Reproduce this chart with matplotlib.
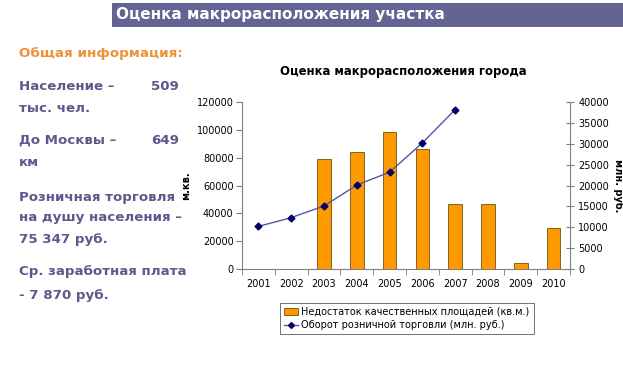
import matplotlib.pyplot as plt
import numpy as np
from matplotlib.patches import Rectangle
from matplotlib.lines import Line2D

plt.rcParams.update({
    "font.family": "DejaVu Sans",
    "font.size": 7,
})

# --- данные ---
years = ["2001", "2002", "2003", "2004", "2005", "2006", "2007", "2008", "2009", "2010"]
shortage = [0, 0, 79000, 84000, 98500, 86300, 47000, 47000, 4300, 29700]
turnover_years = ["2001", "2002", "2003", "2004", "2005", "2006", "2007"]
turnover = [10200, 12300, 15100, 20100, 23200, 30200, 38200]

left_lines = [
    ("Население –", "509", 86),
    ("тыс. чел.", None, 108),
    ("До Москвы –", "649", 140),
    ("км", None, 162),
    ("Розничная торговля", None, 197),
    ("на душу населения –", None, 218),
    ("75 347 руб.", None, 240),
    ("Ср. заработная плата", None, 272),
    ("- 7 870 руб.", None, 295),
]

W, H = 623, 376
fig = plt.figure(figsize=(W / 100, H / 100), dpi=100)
fig.patch.set_facecolor("white")

def fx(px):
    return px / W

def fy(py):
    return 1 - py / H

# заголовок-плашка
fig.patches.append(Rectangle((fx(112), fy(27)), 1 - fx(112), (27 - 3) / H,
                             transform=fig.transFigure, facecolor="#636394",
                             edgecolor="none"))
fig.text(fx(116), fy(15), "Оценка макрорасположения участка", color="white",
         fontsize=11, fontweight="bold", va="center", ha="left")

# левый текст
txt_col = "#5a5a8c"
fig.text(fx(19), fy(53), "Общая информация:", color="#f0903a", fontsize=9.7,
         fontweight="bold", va="center")
for s, num, y in left_lines:
    fig.text(fx(19), fy(y), s, color=txt_col, fontsize=9.6, fontweight="bold",
             va="center")
    if num:
        fig.text(fx(179), fy(y), num, color=txt_col, fontsize=9.6,
                 fontweight="bold", va="center", ha="right")

# --- график ---
ax = fig.add_axes([fx(242), fy(269), (570 - 242) / W, (269 - 102) / H])
x = np.arange(len(years))
ax.bar(x, shortage, width=0.42, color="#ff9900", edgecolor="#6b5020",
       linewidth=0.6, zorder=2)
ax.set_xlim(-0.5, len(years) - 0.5)
ax.set_ylim(0, 120000)
ax.set_yticks(np.arange(0, 120001, 20000))
ax.set_xticks(x)
ax.set_xticklabels(years)
ax.set_xticks(np.arange(-0.5, len(years)), minor=True)
ax.tick_params(axis="x", which="major", length=0, pad=7)
ax.tick_params(axis="x", which="minor", length=4, direction="out", color="#808080")
ax.tick_params(axis="y", length=4, direction="out", color="#808080", pad=2)
for sp in ["top", "right"]:
    ax.spines[sp].set_visible(False)
for sp in ["left", "bottom"]:
    ax.spines[sp].set_color("#808080")
ax.set_ylabel("м.кв.", fontsize=7, fontweight="bold", labelpad=4)

ax2 = ax.twinx()
xt = [years.index(y) for y in turnover_years]
ax2.plot(xt, turnover, color="#5555aa", linewidth=1, marker="D",
         markersize=3.5, markerfacecolor="#000066", markeredgecolor="#000066",
         zorder=3)
ax2.set_ylim(0, 40000)
ax2.set_yticks(np.arange(0, 40001, 5000))
ax2.tick_params(axis="y", length=6, direction="inout", color="#808080", pad=3)
for sp in ["top", "left", "bottom"]:
    ax2.spines[sp].set_visible(False)
ax2.spines["right"].set_color("#808080")
ax2.set_ylabel("млн. руб.", fontsize=7, fontweight="bold", rotation=270,
               labelpad=10)

fig.text(fx(403), fy(72), "Оценка макрорасположения города", fontsize=8.4,
         fontweight="bold", ha="center", va="center")

# легенда
handles = [
    Rectangle((0, 0), 1, 1, facecolor="#ff9900", edgecolor="#6b5020", linewidth=0.6),
    Line2D([], [], color="#5555aa", linewidth=1, marker="D", markersize=3,
           markerfacecolor="#000066", markeredgecolor="#000066"),
]
labels = ["Недостаток качественных площадей (кв.м.)",
          "Оборот розничной торговли (млн. руб.)"]
leg = fig.legend(handles, labels, loc="upper left",
                 bbox_to_anchor=(fx(280), fy(303)), fontsize=7, frameon=True,
                 fancybox=False, borderpad=0.4, labelspacing=0.35,
                 handlelength=1.5, handletextpad=0.3, borderaxespad=0)
leg.get_frame().set_edgecolor("#333333")
leg.get_frame().set_linewidth(0.6)

fig.savefig("out.png", dpi=100)
